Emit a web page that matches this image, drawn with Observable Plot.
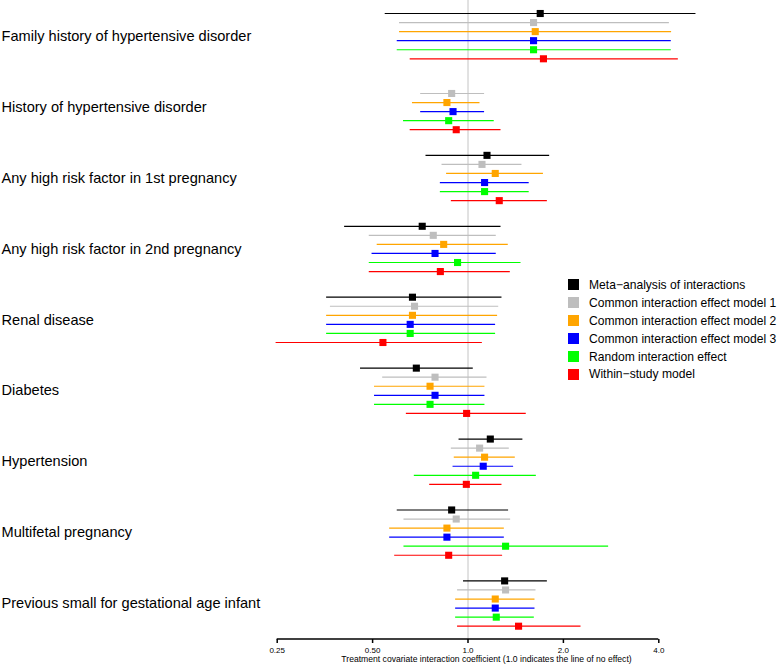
<!DOCTYPE html>
<html>
<head>
<meta charset="utf-8">
<script src="https://cdn.jsdelivr.net/npm/d3@7"></script>
<script src="https://cdn.jsdelivr.net/npm/@observablehq/plot@0.6"></script>
<style>
  html, body { margin: 0; padding: 0; background: #fff; }
  #wrap { position: relative; width: 778px; height: 666px; font-family: "Liberation Sans", Arial, Helvetica, sans-serif; }
  #legend { position: absolute; left: 568px; top: 276px; font-size: 12.1px; color: #000; }
  #legend .row { display: flex; align-items: center; height: 17.9px; white-space: nowrap; }
  #legend .sw { width: 11px; height: 11px; margin-right: 10px; }
</style>
</head>
<body>
<div id="wrap"><div id="legend"></div></div>
<script>
const categories = [
  "Family history of hypertensive disorder",
  "History of hypertensive disorder",
  "Any high risk factor in 1st pregnancy",
  "Any high risk factor in 2nd pregnancy",
  "Renal disease",
  "Diabetes",
  "Hypertension",
  "Multifetal pregnancy",
  "Previous small for gestational age infant"
];
const seriesNames = [
  "Meta\u2212analysis of interactions",
  "Common interaction effect model 1",
  "Common interaction effect model 2",
  "Common interaction effect model 3",
  "Random interaction effect",
  "Within\u2212study model"
];
const seriesColors = ["#000000", "#BEBEBE", "#FFA500", "#0000FF", "#00FF00", "#FF0000"];

// estimates, lower and upper limits per category (order of categories)
const metaEst = [1.69, null, 1.148, 0.717, 0.668, 0.687, 1.176, 0.888, 1.305];
const metaLo  = [0.548, null, 0.737, 0.408, 0.358, 0.458, 0.937, 0.598, 0.968];
const metaHi  = [5.24, null, 1.81, 1.271, 1.28, 1.039, 1.49, 1.343, 1.78];

const m1Est = [1.61, 0.888, 1.107, 0.777, 0.678, 0.787, 1.088, 0.918, 1.314];
const m1Lo  = [0.608, 0.709, 0.828, 0.488, 0.368, 0.538, 0.886, 0.628, 0.927];
const m1Hi  = [4.32, 1.128, 1.48, 1.228, 1.25, 1.148, 1.35, 1.363, 1.639];

const m2Est = [1.63, 0.858, 1.219, 0.838, 0.668, 0.759, 1.128, 0.858, 1.219];
const m2Lo  = [0.608, 0.668, 0.856, 0.517, 0.358, 0.507, 0.905, 0.566, 0.914];
const m2Hi  = [4.39, 1.091, 1.73, 1.34, 1.24, 1.131, 1.41, 1.302, 1.627];

const m3Est = [1.61, 0.897, 1.128, 0.787, 0.657, 0.787, 1.117, 0.858, 1.219];
const m3Lo  = [0.598, 0.709, 0.818, 0.498, 0.358, 0.507, 0.897, 0.566, 0.914];
const m3Hi  = [4.38, 1.128, 1.56, 1.228, 1.222, 1.131, 1.393, 1.302, 1.627];

const reEst = [1.61, 0.869, 1.128, 0.927, 0.657, 0.759, 1.057, 1.314, 1.228];
const reLo  = [0.598, 0.626, 0.818, 0.488, 0.358, 0.507, 0.677, 0.628, 0.914];
const reHi  = [4.38, 1.21, 1.56, 1.47, 1.222, 1.131, 1.643, 2.778, 1.619];

const wsEst = [1.73, 0.918, 1.255, 0.818, 0.539, 0.99, 0.988, 0.869, 1.444];
const wsLo  = [0.657, 0.657, 0.886, 0.488, 0.248, 0.639, 0.757, 0.587, 0.927];
const wsHi  = [4.61, 1.271, 1.78, 1.36, 1.11, 1.527, 1.28, 1.286, 2.273];

const xTicks = [0.25, 0.5, 1, 2, 4];
const xTickLabels = ["0.25", "0.50", "1.0", "2.0", "4.0"];
const xLabel = "Treatment covariate interaction coefficient (1.0 indicates the line of no effect)";

// build table
const estSets = [metaEst, m1Est, m2Est, m3Est, reEst, wsEst];
const loSets  = [metaLo, m1Lo, m2Lo, m3Lo, reLo, wsLo];
const hiSets  = [metaHi, m1Hi, m2Hi, m3Hi, reHi, wsHi];
const groupStep = 7.83; // rows per category block (6 series + gap)
const rows = [];
categories.forEach((c, gi) => {
  seriesNames.forEach((s, si) => {
    const e = estSets[si][gi];
    if (e == null) return;
    rows.push({cat: c, series: s, row: gi * groupStep + si, est: e, lo: loSets[si][gi], hi: hiSets[si][gi]});
  });
});
const groups = categories.map((c, gi) => ({cat: c, row: gi * groupStep + 2.5}));
const lastRow = (categories.length - 1) * groupStep + seriesNames.length - 1;
const tickLabelMap = new Map(xTicks.map((t, i) => [t, xTickLabels[i]]));

const W = 778, H = 666;
const chart = Plot.plot({
  width: W,
  height: H,
  marginLeft: 200,
  marginRight: 6,
  marginTop: 0,
  marginBottom: 27,
  style: {fontFamily: "'Liberation Sans', Arial, Helvetica, sans-serif", background: "transparent"},
  x: {type: "log", base: 2, domain: [0.25, 4], range: [276.7, 658.3], axis: null},
  y: {type: "linear", domain: [0, lastRow], range: [13, 625.7], axis: null},
  color: {domain: seriesNames, range: seriesColors},
  marks: [
    Plot.ruleX([1], {stroke: "#c4c4c4", strokeWidth: 1}),
    Plot.ruleY(rows, {y: "row", x1: "lo", x2: "hi", stroke: "series", strokeWidth: 1.2}),
    Plot.dot(rows, {x: "est", y: "row", fill: "series", symbol: "square", r: 4, stroke: null}),
    Plot.text(groups, {y: "row", text: "cat", frameAnchor: "left", textAnchor: "start", dx: -199, fontSize: 14.6, fill: "#000"}),
    Plot.axisX({anchor: "bottom", ticks: xTicks, tickFormat: d => tickLabelMap.get(d), tickSize: 4, tickPadding: 4, fontSize: 8, label: null, strokeWidth: 1.5}),
    Plot.text([xLabel], {text: d => d, frameAnchor: "bottom", dy: 22.5, fontSize: 8.6, fill: "#000"})
  ]
});

// axis baseline spanning the tick range, placed with the plot's own x scale
const xs = chart.scale("x");
d3.select(chart).append("line")
  .attr("x1", xs.apply(xTicks[0]))
  .attr("x2", xs.apply(xTicks[xTicks.length - 1]))
  .attr("y1", H - 27).attr("y2", H - 27)
  .attr("stroke", "#000").attr("stroke-width", 1.5);

document.getElementById("wrap").prepend(chart);

// legend
const leg = d3.select("#legend");
seriesNames.forEach((s, i) => {
  const r = leg.append("div").attr("class", "row");
  r.append("div").attr("class", "sw").style("background", seriesColors[i]);
  r.append("span").text(s);
});
</script>
</body>
</html>
